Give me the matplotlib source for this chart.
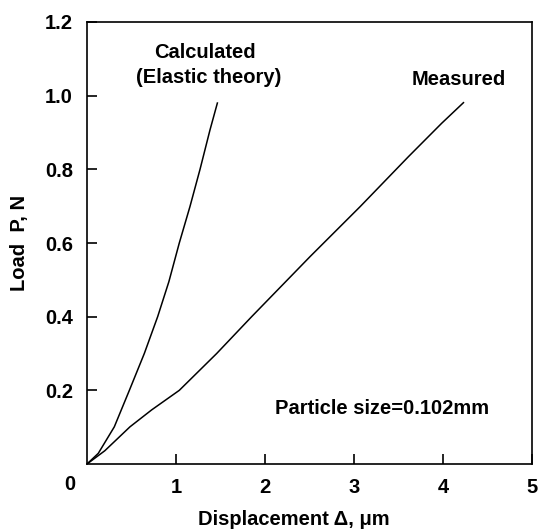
import matplotlib
matplotlib.use("Agg")
import matplotlib.pyplot as plt

calc_x = [0.0, 0.127, 0.307, 0.476, 0.644, 0.794, 0.92, 1.037, 1.157, 1.27, 1.382, 1.465]
calc_y = [0.0, 0.029, 0.101, 0.2, 0.3, 0.4, 0.495, 0.6, 0.699, 0.8, 0.907, 0.98]

meas_x = [0.0, 0.2, 0.483, 0.727, 1.037, 1.457, 1.85, 2.506, 3.07, 3.61, 3.985, 4.23]
meas_y = [0.0, 0.036, 0.101, 0.147, 0.2, 0.3, 0.4, 0.563, 0.699, 0.834, 0.925, 0.981]

xticks = [1, 2, 3, 4, 5]
yticks = [0.2, 0.4, 0.6, 0.8, 1.0, 1.2]

fs = 14.5
plt.rcParams['font.family'] = ['Liberation Sans', 'DejaVu Sans']
plt.rcParams['font.weight'] = 'bold'
plt.rcParams['font.size'] = fs

fig = plt.figure(figsize=(5.39, 5.30), dpi=100)
ax = fig.add_axes([0.1614, 0.1245, 0.8256, 0.834])

ax.plot(calc_x, calc_y, color='black', lw=1.1)
ax.plot(meas_x, meas_y, color='black', lw=1.1)

ax.set_xlim(0, 5)
ax.set_ylim(0, 1.2)
ax.set_xticks(xticks)
ax.set_xticklabels([str(t) for t in xticks])
ax.set_yticks(yticks)
ax.set_yticklabels([f"{t:.1f}" for t in yticks])
ax.tick_params(direction='in', length=7, width=1.2, pad=10, labelsize=fs)
for s in ax.spines.values():
    s.set_linewidth(1.2)

# origin label shared by both axes
ax.annotate("0", xy=(0, 0), xytext=(-12.2, -15), textcoords='offset points',
            ha='center', va='center', fontsize=fs, fontweight='bold')

ax.set_xlabel("Displacement \u0394, \u03bcm", fontsize=fs, fontweight='bold')
ax.xaxis.set_label_coords(0.465, -0.105)
ax.set_ylabel("Load  P, N", fontsize=fs, fontweight='bold')
ax.yaxis.set_label_coords(-0.13, 0.5)

ax.text(1.326, 1.116, "Calculated", ha='center', va='center', fontsize=fs, fontweight='bold')
ax.text(1.37, 1.048, "(Elastic theory)", ha='center', va='center', fontsize=fs, fontweight='bold')
ax.text(4.18, 1.043, "Measured", ha='center', va='center', fontsize=fs, fontweight='bold')
ax.text(3.31, 0.152, "Particle size=0.102mm", ha='center', va='center', fontsize=fs, fontweight='bold')

fig.savefig("out.png", dpi=100)
